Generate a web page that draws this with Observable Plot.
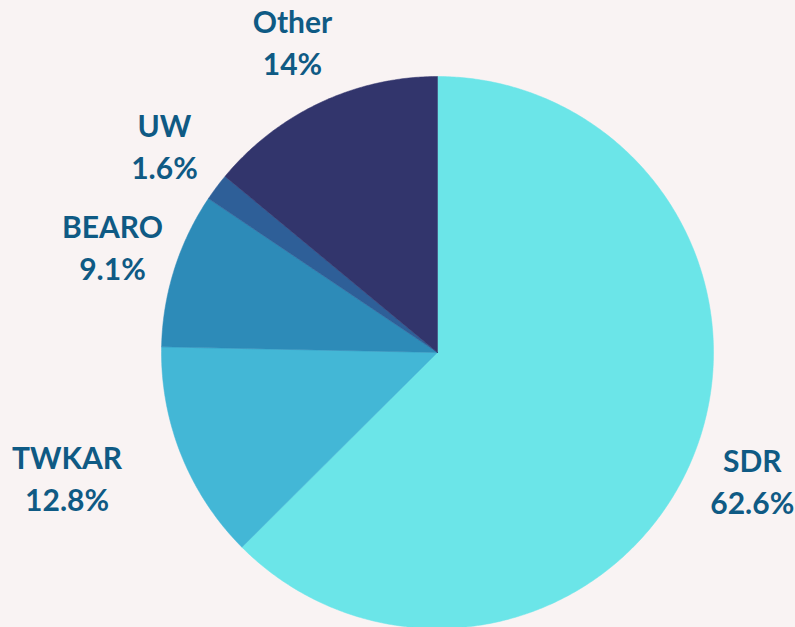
<!DOCTYPE html>
<html>
<head>
<meta charset="utf-8">
<script src="https://cdn.jsdelivr.net/npm/d3@7"></script>
<script src="https://cdn.jsdelivr.net/npm/@observablehq/plot@0.6"></script>
<style>
  html, body { margin: 0; padding: 0; background: #f9f3f3; }
  #chart { width: 795px; height: 627px; overflow: hidden; }
</style>
</head>
<body>
<div id="chart"></div>
<script>
// ---- data ----
const categories = ["SDR", "TWKAR", "BEARO", "UW", "Other"];
const shares = [62.6, 12.8, 9.1, 1.6, 14];
const labels = ["62.6%", "12.8%", "9.1%", "1.6%", "14%"];
const colors = ["#6be5e8", "#43b7d6", "#2d8bb8", "#2e5f98", "#32356c"];

// ---- layout ----
const W = 795, H = 627;
const cx = 437, cy = 352, R = 276;
const labelR = 1.235;                                  // label distance, in pie radii
const labelNudge = {TWKAR: {dr: 0.185, da: 2.8}};     // keep this label clear of the pie

const pie = d3.pie().sort(null).value(d => d.value)(
  categories.map((c, i) => ({name: c, value: shares[i], label: labels[i], color: colors[i]}))
);

// polygons in unit-radius coordinates (y up), angle 0 at 12 o'clock, clockwise
const poly = [];
pie.forEach((s, k) => {
  const n = Math.max(4, Math.ceil((s.endAngle - s.startAngle) / (Math.PI / 360)));
  poly.push({slice: k, x: 0, y: 0, color: s.data.color});
  for (let j = 0; j <= n; j++) {
    const a = s.startAngle + (s.endAngle - s.startAngle) * j / n;
    poly.push({slice: k, x: Math.sin(a), y: Math.cos(a), color: s.data.color});
  }
  poly.push({slice: k, x: 0, y: 0, color: s.data.color});
});

const labelPts = pie.map(s => {
  const nudge = labelNudge[s.data.name] || {dr: 0, da: 0};
  const a = (s.startAngle + s.endAngle) / 2 + nudge.da * Math.PI / 180;
  const r = labelR + nudge.dr;
  return {x: Math.sin(a) * r, y: Math.cos(a) * r, name: s.data.name, pct: s.data.label};
});

const plot = Plot.plot({
  width: W,
  height: H,
  margin: 0,
  style: {background: "#f9f3f3", fontFamily: "Lato, 'Open Sans', sans-serif"},
  x: {domain: [-cx / R, (W - cx) / R], range: [0, W], axis: null},
  y: {domain: [cy / R, -(H - cy) / R], range: [0, H], axis: null},
  marks: [
    Plot.line(poly, {
      x: "x", y: "y", z: "slice",
      fill: "color", stroke: "color", strokeWidth: 0.5,
      curve: "linear"
    }),
    Plot.text(labelPts, {
      x: "x", y: "y", text: "name", dy: -21,
      fill: "#0f5a84", fontSize: 30, fontWeight: 700
    }),
    Plot.text(labelPts, {
      x: "x", y: "y", text: "pct", dy: 21,
      fill: "#0f5a84", fontSize: 30, fontWeight: 700
    })
  ]
});

document.getElementById("chart").appendChild(plot);
</script>
</body>
</html>
